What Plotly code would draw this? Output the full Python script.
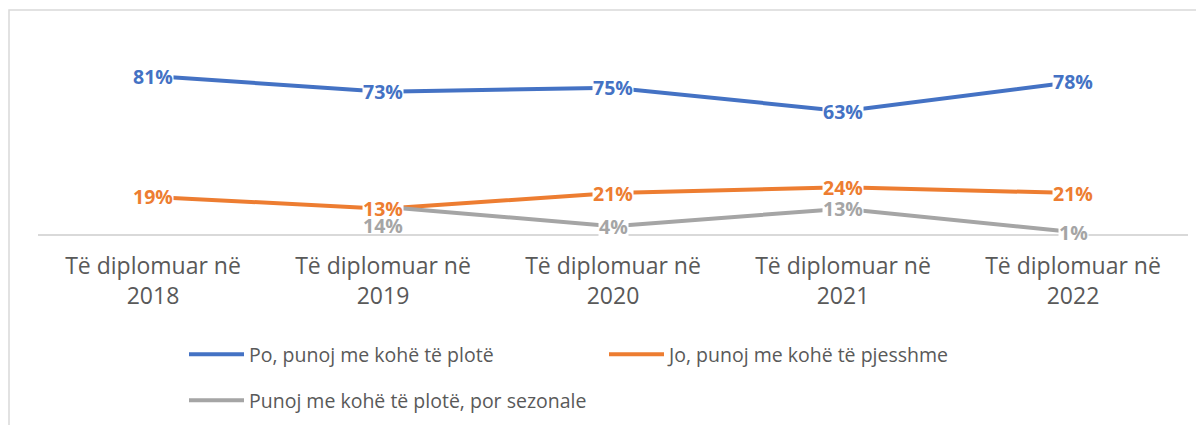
import plotly.graph_objects as go

categories = ["Të diplomuar në<br>2018", "Të diplomuar në<br>2019", "Të diplomuar në<br>2020",
              "Të diplomuar në<br>2021", "Të diplomuar në<br>2022"]
series_names = ["Po, punoj me kohë të plotë", "Jo, punoj me kohë të pjesshme",
                "Punoj me kohë të plotë, por sezonale"]
full_time = [0.81, 0.73, 0.75, 0.63, 0.78]
part_time = [0.19, 0.13, 0.21, 0.24, 0.21]
seasonal = [None, 0.14, 0.04, 0.13, 0.01]

colors = ["#4472C4", "#ED7D31", "#A5A5A5"]
FONT = "Open Sans"
OFF = 8  # page body margin
W, H = 1204, 425
PLOT_L, PLOT_B = 38, 234   # plot-area left / bottom in window pixels
PW, PH = 1150, 195
ML = PLOT_L - OFF
MT = PLOT_B - PH - OFF
MR = W - ML - PW
MB = H - MT - PH


def px(xw):
    return (xw - PLOT_L) / PW


def py(yw):
    return (PLOT_B - yw) / PH


fig = go.Figure()
all_series = [full_time, part_time, seasonal]
legends = ["legend", "legend", "legend2"]
for name, vals, col, lg in zip(series_names, all_series, colors, legends):
    fig.add_trace(go.Scatter(
        x=categories, y=vals, name=name, mode="lines",
        line=dict(color=col, width=4), connectgaps=False, legend=lg,
        hoverinfo="skip"))

# data labels (centered on points, white background like Excel)
label_shift = {(2, 1): -19}
normal, shifted = [], []
for si in [2, 1, 0]:
    vals, col = all_series[si], colors[si]
    for ci, v in enumerate(vals):
        if v is None:
            continue
        (shifted if (si, ci) in label_shift else normal).append((si, ci, v, col))
for si, ci, v, col in normal + shifted:
    is_shifted = (si, ci) in label_shift
    fig.add_annotation(
        x=categories[ci], y=v, xref="x", yref="y",
        text=f"<b>{round(v*100)}%</b>", showarrow=False,
        font=dict(family=FONT, size=19.5, color=col),
        bgcolor="rgba(0,0,0,0)" if is_shifted else "white", borderpad=0,
        yshift=label_shift.get((si, ci), 0))

# outer chart border
fig.add_shape(type="rect", xref="paper", yref="paper",
              x0=px(9), x1=px(W + 30), y0=py(H + 30), y1=py(10),
              line=dict(color="#D9D9D9", width=1.5), fillcolor="rgba(0,0,0,0)",
              layer="below")

fig.update_layout(
    width=W, height=H,
    margin=dict(l=ML, r=MR, t=MT, b=MB, autoexpand=False),
    paper_bgcolor="white", plot_bgcolor="white",
    font=dict(family=FONT, color="#595959"),
    showlegend=True,
    legend=dict(orientation="h", x=px(184), xanchor="left",
                y=py(335), yanchor="top",
                entrywidth=350, entrywidthmode="pixels",
                font=dict(family=FONT, size=19.5, color="#595959"),
                itemwidth=55, bgcolor="rgba(0,0,0,0)"),
    legend2=dict(orientation="h", x=px(184), xanchor="left",
                 y=py(381), yanchor="top",
                 font=dict(family=FONT, size=19.5, color="#595959"),
                 itemwidth=55, bgcolor="rgba(0,0,0,0)"),
    xaxis=dict(type="category", range=[-0.5, 4.5], showgrid=False,
               showline=True, linecolor="#D9D9D9", linewidth=1.5,
               ticks="", tickfont=dict(family=FONT, size=23, color="#595959"),
               ticklabelstandoff=11, automargin=False, fixedrange=True),
    yaxis=dict(range=[0, 1], showgrid=False, showline=False, zeroline=False,
               showticklabels=False, ticks="", automargin=False, fixedrange=True),
)

fig.write_html("out.html")
